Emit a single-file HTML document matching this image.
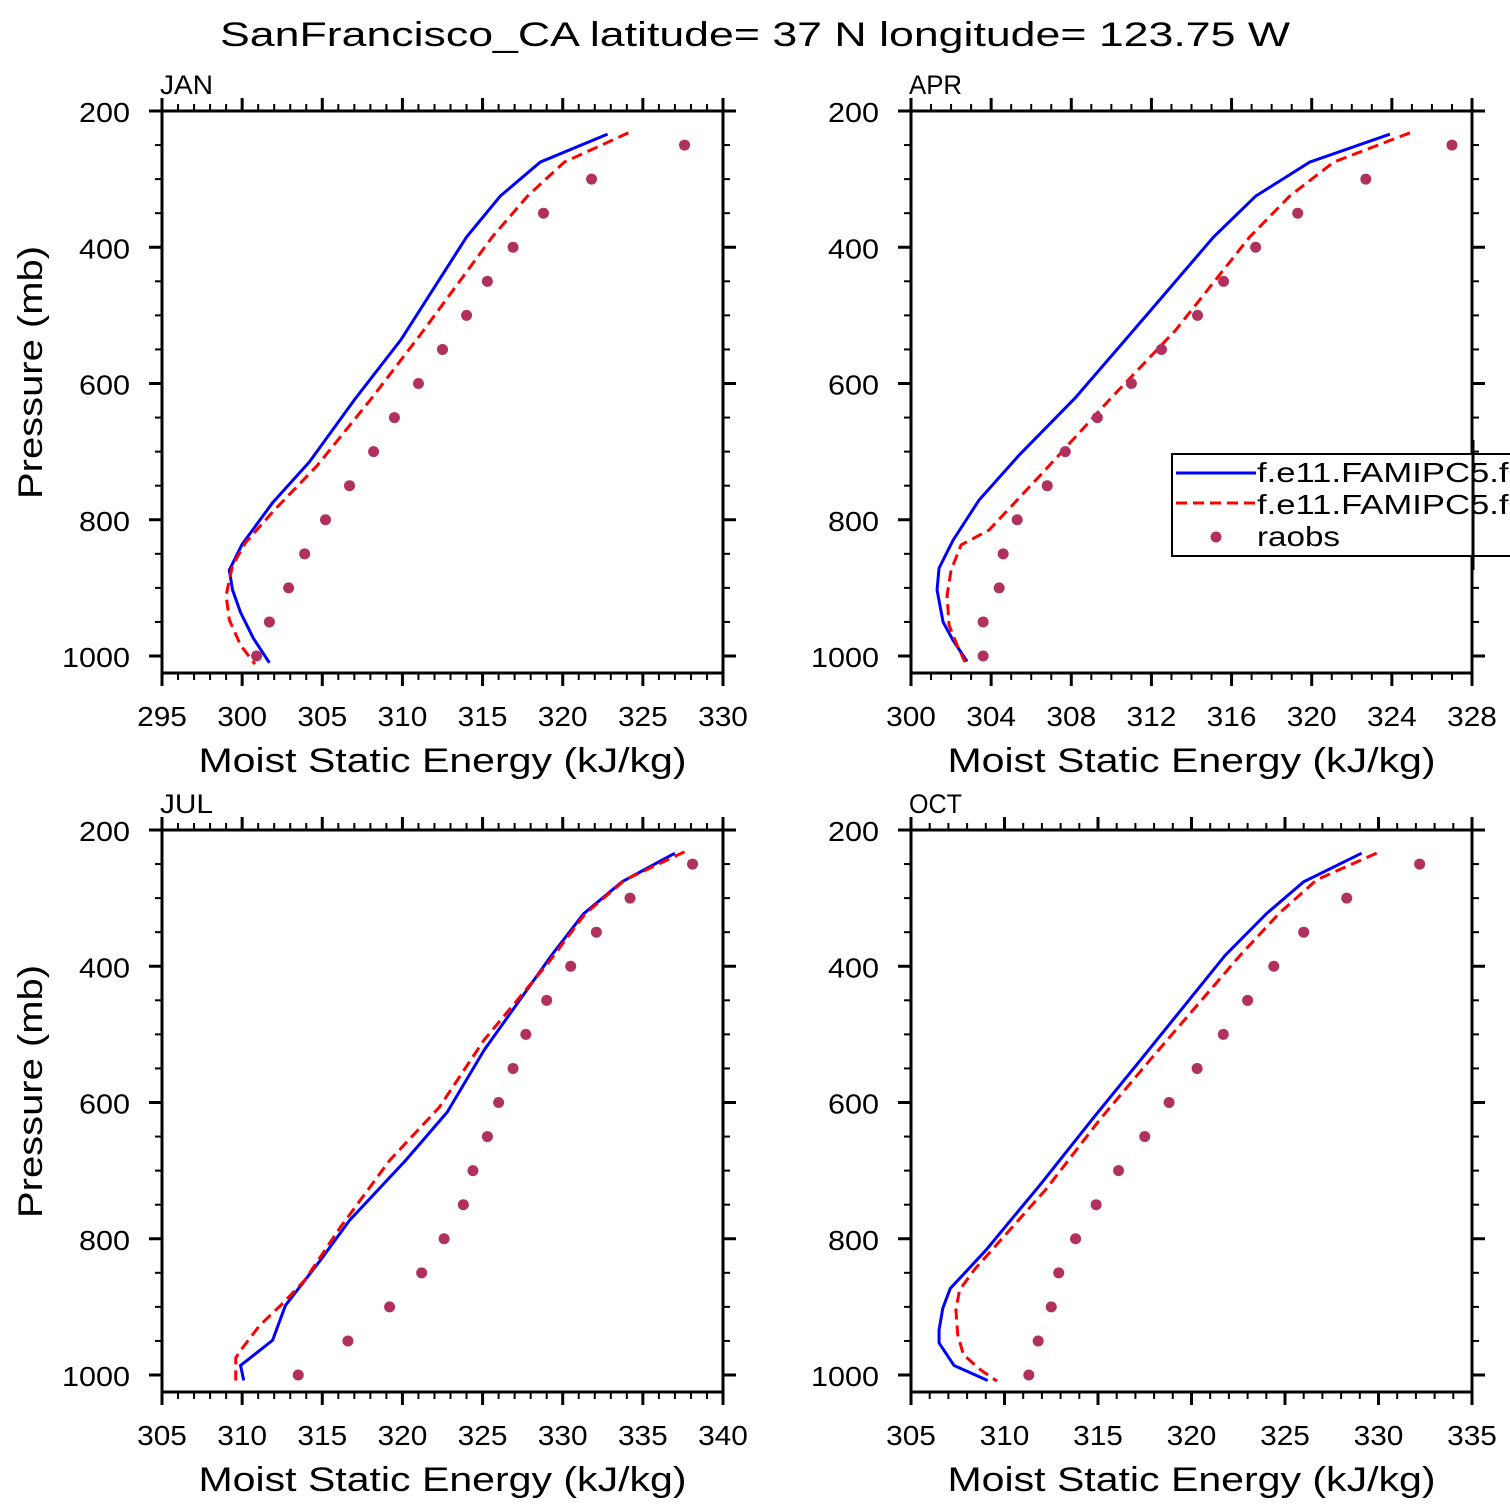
<!DOCTYPE html>
<html><head><meta charset="utf-8"><style>
html,body{margin:0;padding:0;background:#fff}
svg{display:block}
text{font-family:"Liberation Sans",sans-serif;fill:#000}
</style></head><body>
<svg id="chart" width="1510" height="1510" xmlns="http://www.w3.org/2000/svg">
<text x="220" y="46" font-size="34" textLength="1070" lengthAdjust="spacingAndGlyphs">SanFrancisco_CA  latitude= 37 N longitude= 123.75 W</text>
</svg>
<script>
const months = ["JAN","APR","JUL","OCT"];
const xMin = [295,300,305,305];
const xMax = [330,328,340,335];
const xStep = [5,4,5,5];
const xMinorPer = [5,4,5,5];
const yTicks = [200,400,600,800,1000];
const raobP = [250,300,350,400,450,500,550,600,650,700,750,800,850,900,950,1000];
const janBlueX = [322.8,318.6,316.1,314.0,309.9,307.0,304.2,301.9,300.0,299.2,299.4,299.9,300.7,301.7];
const janBlueP = [234,275,325,385,536,624,715,775,836,874,903,936,974,1010];
const janRedX = [324.1,320.1,317.8,315.6,311.1,308.0,304.7,302.0,300.2,299.4,299.0,299.2,299.9,300.8];
const janRedP = [232,275,325,385,529,624,720,786,834,867,911,947,984,1012];
const janRaob = [327.6,321.8,318.8,316.9,315.3,314.0,312.5,311.0,309.5,308.2,306.7,305.2,303.9,302.9,301.7,300.9];
const aprBlueX = [323.9,319.9,317.2,315.1,310.9,308.2,305.4,303.4,302.1,301.4,301.3,301.6,302.1,302.8];
const aprBlueP = [234,275,325,385,529,621,705,771,830,871,903,950,977,1008];
const aprRedX = [324.9,321.1,318.9,316.9,313.2,309.9,306.7,303.9,302.5,302.0,301.8,301.9,302.3,302.7];
const aprRedP = [232,275,325,385,522,624,727,815,837,874,911,955,984,1009];
const aprRaob = [327.0,322.7,319.3,317.2,315.6,314.3,312.5,311.0,309.3,307.7,306.8,305.3,304.6,304.4,303.6,303.6];
const julBlueX = [337.0,333.7,331.3,329.3,325.1,322.8,320.2,316.7,314.9,312.7,311.9,310.5,309.9,310.1];
const julBlueP = [234,276,323,384,523,614,685,773,831,898,949,975,986,1008];
const julRedX = [337.6,333.9,331.4,329.1,325.1,322.3,319.2,316.1,313.9,312.4,311.1,309.9,309.6,309.6];
const julRedP = [232,273,323,395,508,607,685,784,861,898,927,964,975,1008];
const julRaob = [338.1,334.2,332.1,330.5,329.0,327.7,326.9,326.0,325.3,324.4,323.8,322.6,321.2,319.2,316.6,313.5];
const octBlueX = [329.1,326.0,324.0,321.8,317.5,314.8,311.9,309.0,307.1,306.7,306.5,306.5,307.3,309.1];
const octBlueP = [234,276,323,384,530,621,721,817,873,902,934,953,986,1008];
const octRedX = [329.9,326.7,324.7,322.6,317.8,315.1,312.2,308.4,307.6,307.4,307.5,307.8,308.7,309.6];
const octRedP = [234,273,322,384,537,625,728,845,875,904,941,970,992,1009];
const octRaob = [332.2,328.3,326.0,324.4,323.0,321.7,320.3,318.8,317.5,316.1,314.9,313.8,312.9,312.5,311.8,311.3];

const series = [
 [janBlueX,janBlueP,janRedX,janRedP,janRaob],
 [aprBlueX,aprBlueP,aprRedX,aprRedP,aprRaob],
 [julBlueX,julBlueP,julRedX,julRedP,julRaob],
 [octBlueX,octBlueP,octRedX,octRedP,octRaob]
];
const NS="http://www.w3.org/2000/svg";
const svg=document.getElementById('chart');
function mk(tag,attrs,parent){const e=document.createElementNS(NS,tag);for(const k in attrs)e.setAttribute(k,attrs[k]);(parent||svg).appendChild(e);return e;}
const lefts=[162,911,162,911], tops=[111,111,830,830];
const W=561, H=562, pxPerMb=545/800;
for(let i=0;i<4;i++){
  const L=lefts[i],T=tops[i],R=L+W,B=T+H;
  const g=mk('g',{});
  
  
  const xs=v=>L+(v-xMin[i])/(xMax[i]-xMin[i])*W;
  const ys=p=>T+(p-200)*pxPerMb;
  const clipId='clip'+i;
  const cp=mk('clipPath',{id:clipId},g);mk('rect',{x:L,y:T,width:W,height:H},cp);
  const s=series[i];
  const blue=mk('polyline',{points:s[0].map((v,k)=>xs(v)+','+ys(s[1][k])).join(' '),fill:'none',stroke:'#0000ff','stroke-width':3,'clip-path':'url(#'+clipId+')'},g);
  
  
  const red=mk('polyline',{points:s[2].map((v,k)=>xs(v)+','+ys(s[3][k])).join(' '),fill:'none',stroke:'#ff0000','stroke-width':3,'stroke-dasharray':'11,6','clip-path':'url(#'+clipId+')'},g);
  
  
  s[4].forEach((v,k)=>{
    const c=mk('circle',{cx:xs(v),cy:ys(raobP[k]),r:5.5,fill:'#b0305e'},g);
    
    
  });
  mk('rect',{x:L,y:T,width:W,height:H,fill:'none',stroke:'#000','stroke-width':3},g);
  const nMaj=Math.round((xMax[i]-xMin[i])/xStep[i]);
  for(let m=0;m<=nMaj;m++){
    const v=xMin[i]+m*xStep[i], x=xs(v);
    mk('line',{x1:x,x2:x,y1:B,y2:B+13,stroke:'#000','stroke-width':3},g);
    mk('line',{x1:x,x2:x,y1:T,y2:T-13,stroke:'#000','stroke-width':3},g);
    const str=String(v);
    const t=mk('text',{x:x-str.length*8.3,y:B+53,'font-size':28,textLength:str.length*16.6,lengthAdjust:'spacingAndGlyphs'},g);t.textContent=str;
    
    
    if(m<nMaj)for(let n=1;n<xMinorPer[i];n++){
      const xm=xs(v+n*xStep[i]/xMinorPer[i]);
      mk('line',{x1:xm,x2:xm,y1:B,y2:B+7,stroke:'#000','stroke-width':2},g);
      mk('line',{x1:xm,x2:xm,y1:T,y2:T-7,stroke:'#000','stroke-width':2},g);
    }
  }
  for(let p=200;p<=1000;p+=50){
    const y=ys(p), maj=p%200===0, len=maj?13:7, sw=maj?3:2;
    mk('line',{x1:L,x2:L-len,y1:y,y2:y,stroke:'#000','stroke-width':sw},g);
    mk('line',{x1:R,x2:R+len,y1:y,y2:y,stroke:'#000','stroke-width':sw},g);
  }
  yTicks.forEach(p=>{
    const str=String(p);
    const t=mk('text',{x:L-32-str.length*17,y:ys(p)+11,'font-size':28,textLength:str.length*17,lengthAdjust:'spacingAndGlyphs'},g);t.textContent=str;
    
    
  });
  const mt=mk('text',{x:L-2,y:T-17,'font-size':27,textLength:53,lengthAdjust:'spacingAndGlyphs'},g);mt.textContent=months[i];
  
  
  const xt=mk('text',{x:L+W/2-244,y:B+99,'font-size':34,textLength:488,lengthAdjust:'spacingAndGlyphs'},g);xt.textContent='Moist Static Energy (kJ/kg)';
  
  
  if(i%2===0){
    const yt=mk('text',{x:-126,y:0,'font-size':34,textLength:253,lengthAdjust:'spacingAndGlyphs',transform:'translate(42,'+(T+H/2-19)+') rotate(-90)'},g);yt.textContent='Pressure (mb)';
    
    
  }
}
const lg=mk('g',{});


mk('rect',{x:1172,y:454,width:360,height:102,fill:'#fff',stroke:'#000','stroke-width':2},lg);
mk('line',{x1:1176,x2:1256,y1:473,y2:473,stroke:'#0000ff','stroke-width':3},lg);
mk('line',{x1:1176,x2:1256,y1:503,y2:503,stroke:'#ff0000','stroke-width':3,'stroke-dasharray':'11,6'},lg);
mk('circle',{cx:1216,cy:537,r:5.5,fill:'#b0305e'},lg);
const labs=['f.e11.FAMIPC5.f09','f.e11.FAMIPC5.f09','raobs'];
const labW=[290,290,83];
labs.forEach((s,k)=>{const t=mk('text',{x:1257,y:482+k*32,'font-size':28,textLength:labW[k],lengthAdjust:'spacingAndGlyphs'},lg);t.textContent=s;
  
  });
mk('line',{x1:1473,x2:1473,y1:440,y2:570,stroke:'#000','stroke-width':3},lg);
</script>
</body></html>
